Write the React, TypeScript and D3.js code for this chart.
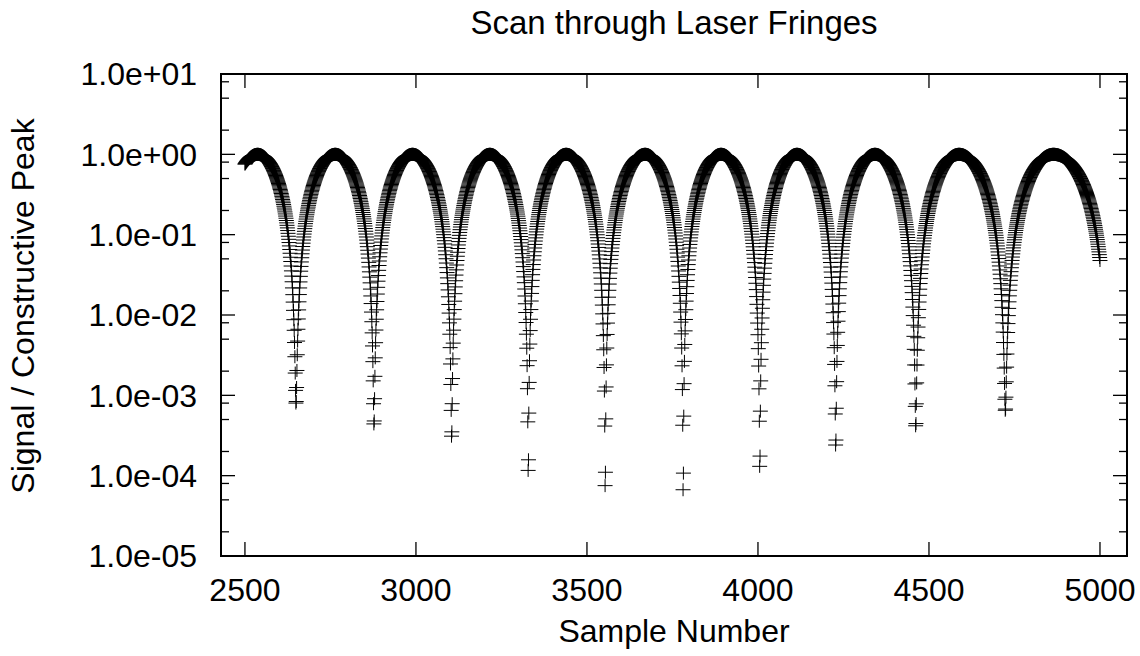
import * as d3 from "d3";
import React, { useMemo } from "react";

const width = 1140;
const height = 656;
const margin = { left: 221, right: 13, top: 74, bottom: 100 };

const title = "Scan through Laser Fringes";
const xLabel = "Sample Number";
const yLabel = "Signal / Constructive Peak";

// scanned samples
const firstSample = 2500;
const lastSample = 5000;

// fringe minima (first and last lie just outside the scan)
const dipSamples = [
  2425, 2649.4, 2877.4, 3104.4, 3328.4, 3553.4, 3781.4, 4005.4, 4227.4,
  4461.4, 4723.4, 5022,
];
// deepest level reached in each minimum
const dipFloors = [
  8e-4, 7.7e-4, 4.1e-4, 2.8e-4, 8.5e-5, 4.5e-5, 3.5e-5, 1.0e-4, 2.1e-4,
  3.9e-4, 6.3e-4, 6e-4,
];
// constructive peaks between the minima
const peakSamples = [
  2537, 2764, 2990, 3216, 3439, 3670, 3892, 4114, 4342, 4588, 4864,
];
const peakLevels = [1.0, 1.0, 1.0, 1.0, 1.0, 1.0, 1.0, 1.0, 1.0, 1.0, 1.0];

const xDomain = [2430, 5079];
const xTicks = [2500, 3000, 3500, 4000, 4500, 5000];
const yDomain = [1e-5, 1e1];
const yTicks = [1e-5, 1e-4, 1e-3, 1e-2, 1e-1, 1e0, 1e1];
const yTickLabels = [
  "1.0e-05",
  "1.0e-04",
  "1.0e-03",
  "1.0e-02",
  "1.0e-01",
  "1.0e+00",
  "1.0e+01",
];
const yMinorSteps = [2, 5, 8];

const font = "'Liberation Sans', Arial, Helvetica, sans-serif";

function signalAt(n) {
  // walk the minima/peak pairs and shape each half fringe as sin^2
  for (let i = 0; i < peakSamples.length; i++) {
    const p = peakSamples[i];
    const a = dipSamples[i];
    const b = dipSamples[i + 1];
    const level = peakLevels[i];
    if (n >= a && n <= p) {
      const f = dipFloors[i];
      const t = (n - a) / (p - a);
      return f + (level - f) * Math.sin((Math.PI / 2) * t) ** 2;
    }
    if (n > p && n <= b) {
      const f = dipFloors[i + 1];
      const t = (b - n) / (b - p);
      return f + (level - f) * Math.sin((Math.PI / 2) * t) ** 2;
    }
  }
  return null;
}

export default function App() {
  const x = d3
    .scaleLinear()
    .domain(xDomain)
    .range([margin.left, width - margin.right]);
  const y = d3
    .scaleLog()
    .domain(yDomain)
    .range([height - margin.bottom, margin.top]);

  const x0 = margin.left;
  const x1 = width - margin.right;
  const y0 = height - margin.bottom;
  const y1 = margin.top;

  const pointsPath = useMemo(() => {
    let d = "";
    for (let n = firstSample; n <= lastSample; n++) {
      const v = signalAt(n);
      if (v == null) continue;
      const cx = x(n);
      const cy = y(v);
      d += `M${(cx - 7.5).toFixed(2)},${cy.toFixed(2)}h15M${cx.toFixed(
        2
      )},${(cy - 6.5).toFixed(2)}v13`;
    }
    return d;
  }, []);

  const minorTicks = [];
  yTicks.slice(0, -1).forEach((t) => {
    yMinorSteps.forEach((m) => minorTicks.push(t * m));
  });

  return (
    <div style={{ position: "absolute", left: 0, top: 0 }}>
      <svg
        width={width}
        height={height}
        viewBox={`0 0 ${width} ${height}`}
        style={{ display: "block", background: "#fff" }}
        fontFamily={font}
      >
        <path d={pointsPath} stroke="#000" strokeWidth={1} fill="none" />

        {xTicks.map((t) => (
          <g key={`x${t}`}>
            <line
              x1={x(t)}
              x2={x(t)}
              y1={y0}
              y2={y0 - 14}
              stroke="#000"
              strokeWidth={1.3}
            />
            <line
              x1={x(t)}
              x2={x(t)}
              y1={y1}
              y2={y1 + 14}
              stroke="#000"
              strokeWidth={1.3}
            />
            <text
              x={x(t)}
              y={601}
              fontSize={32}
              textAnchor="middle"
              fill="#000"
            >
              {t}
            </text>
          </g>
        ))}

        {yTicks.map((t, i) => (
          <g key={`y${i}`}>
            <line
              x1={x0}
              x2={x0 + 14}
              y1={y(t)}
              y2={y(t)}
              stroke="#000"
              strokeWidth={1.3}
            />
            <line
              x1={x1}
              x2={x1 - 14}
              y1={y(t)}
              y2={y(t)}
              stroke="#000"
              strokeWidth={1.3}
            />
            <text
              x={197}
              y={y(t)}
              dy="0.35em"
              fontSize={32}
              textAnchor="end"
              fill="#000"
            >
              {yTickLabels[i]}
            </text>
          </g>
        ))}

        {minorTicks.map((t, i) => (
          <g key={`m${i}`}>
            <line
              x1={x0}
              x2={x0 + 8}
              y1={y(t)}
              y2={y(t)}
              stroke="#000"
              strokeWidth={1.3}
            />
            <line
              x1={x1}
              x2={x1 - 8}
              y1={y(t)}
              y2={y(t)}
              stroke="#000"
              strokeWidth={1.3}
            />
          </g>
        ))}

        <rect
          x={x0}
          y={y1}
          width={x1 - x0}
          height={y0 - y1}
          fill="none"
          stroke="#000"
          strokeWidth={2}
        />

        <text
          x={(x0 + x1) / 2}
          y={34}
          fontSize={33}
          textAnchor="middle"
          fill="#000"
        >
          {title}
        </text>
        <text
          x={(x0 + x1) / 2}
          y={642}
          fontSize={32}
          textAnchor="middle"
          fill="#000"
        >
          {xLabel}
        </text>
        <text
          transform={`translate(34,306) rotate(-90)`}
          fontSize={32}
          textAnchor="middle"
          fill="#000"
        >
          {yLabel}
        </text>
      </svg>
    </div>
  );
}
